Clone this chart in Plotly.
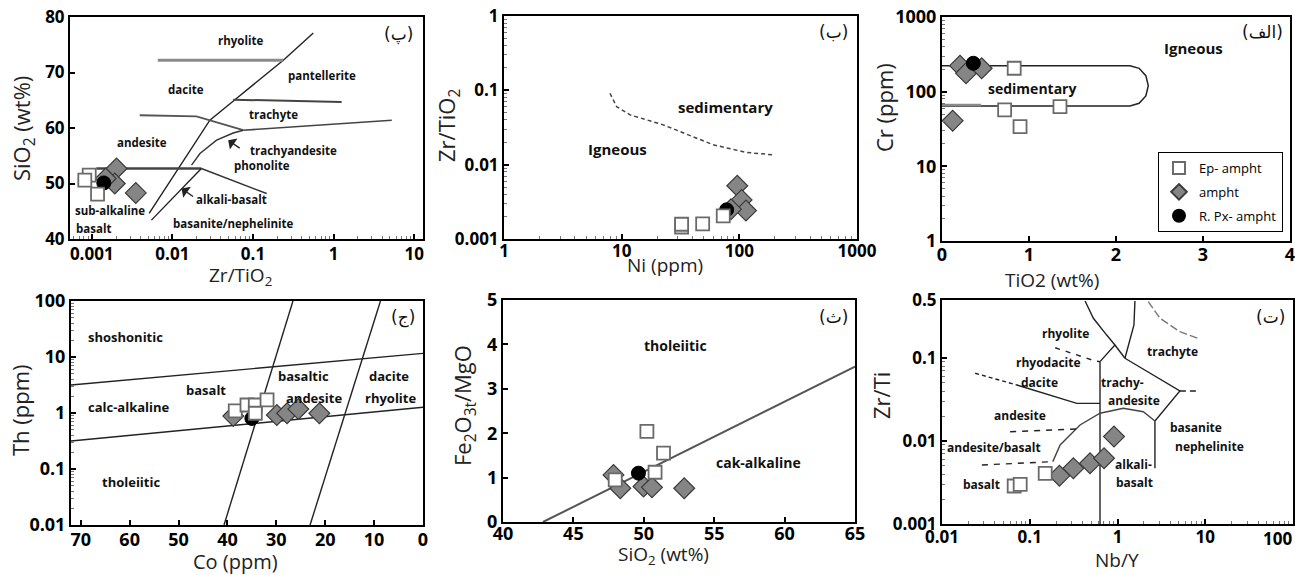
import numpy as np
import plotly.graph_objects as go

W, H = 1295, 575

# ================= DATA =================
# Panel (پ): SiO2 (wt%) vs Zr/TiO2
p1_ep_x = [0.00093, 0.00082, 0.00118]
p1_ep_y = [51.5, 50.6, 48.1]
p1_am_x = [0.00203, 0.00193, 0.00149, 0.00352]
p1_am_y = [52.7, 50.0, 50.9, 48.3]
p1_px_x = [0.00141]
p1_px_y = [50.1]
# classification boundaries (Winchester & Floyd)
p1_main_x = [0.00515, 0.0118, 0.0292, 0.0597, 0.238, 0.561]
p1_main_y = [44.6, 52.7, 61.4, 65.1, 72.2, 77.1]
p1_rhy_x = [0.0066, 0.238]
p1_rhy_y = [72.2, 72.2]
p1_dac_x = [0.00394, 0.0199, 0.0758]
p1_dac_y = [62.3, 62.1, 59.6]
p1_trl_x = [0.0758, 5.28]
p1_trl_y = [59.6, 61.4]
p1_pan_x = [0.0569, 1.26]
p1_pan_y = [65.1, 64.7]
p1_and_x = [0.00114, 0.0229]
p1_and_y = [52.7, 52.7]
p1_alk_x = [0.0229, 0.148]
p1_alk_y = [52.7, 48.2]
p1_low_x = [0.0055, 0.0229]
p1_low_y = [43.4, 52.7]
p1_pho_x = [0.0173, 0.022, 0.0354, 0.0569, 0.0758]
p1_pho_y = [53.3, 55.4, 57.8, 59.1, 59.6]
p1_arrow_pts = [(0.0493, 57.8), (0.0130, 49.1)]

# Panel (ب): Zr/TiO2 vs Ni (ppm)
p2_ep_x = [32.3, 32.3, 48.8, 73.0]
p2_ep_y = [0.00145, 0.00158, 0.00160, 0.00205]
p2_am_x = [96, 104.6, 113.8, 84.9]
p2_am_y = [0.0052, 0.00336, 0.00241, 0.00252]
p2_px_x = [78]
p2_px_y = [0.00247]
p2_curve_x = [7.96, 9.06, 11.8, 22.6, 60, 115, 200]
p2_curve_y = [0.0914, 0.0604, 0.0467, 0.0343, 0.0185, 0.0146, 0.0135]

# Panel (الف): Cr (ppm) vs TiO2 (wt%)
p3_ep_x = [0.83, 0.72, 1.356, 0.897]
p3_ep_y = [206, 56.9, 63, 34]
p3_am_x = [0.207, 0.276, 0.456, 0.123]
p3_am_y = [223, 176, 206, 40.9]
p3_px_x = [0.36]
p3_px_y = [240]
p3_bnd_x = [0, 2.161, 2.266, 2.343, 2.371, 2.343, 2.266, 2.161, 0]
p3_bnd_y = [223, 223, 205.6, 163.7, 119.8, 87.7, 69.8, 64.3, 64.3]
p3_gray_x = [0, 0.45]
p3_gray_y = [66.5, 66.5]

# Panel (ج): Th (ppm) vs Co (ppm)
p4_ep_x = [38.4, 36.0, 34.3, 31.9, 34.3]
p4_ep_y = [1.09, 1.39, 1.39, 1.71, 0.99]
p4_am_x = [38.8, 29.9, 27.8, 25.5, 21.2]
p4_am_y = [0.88, 0.92, 0.99, 1.18, 0.99]
p4_px_x = [35.0]
p4_px_y = [0.80]
p4_up_x = [72, 0]
p4_up_y = [3.16, 11.6]
p4_lo_x = [72, 0]
p4_lo_y = [0.316, 1.27]
p4_s1_x = [40.7, 26.6]
p4_s1_y = [0.01, 100]
p4_s2_x = [23.1, 8.7]
p4_s2_y = [0.01, 100]

# Panel (ث): Fe2O3t/MgO vs SiO2
p5_ep_x = [50.22, 51.4, 50.8, 47.97]
p5_ep_y = [2.04, 1.55, 1.12, 0.95]
p5_am_x = [47.85, 48.33, 49.98, 50.58, 52.87]
p5_am_y = [1.06, 0.76, 0.80, 0.78, 0.76]
p5_px_x = [49.62]
p5_px_y = [1.10]
p5_line_x = [42.84, 65]
p5_line_y = [0, 3.5]

# Panel (ت): Zr/Ti vs Nb/Y
p6_ep_x = [0.15, 0.0665, 0.0778]
p6_ep_y = [0.00408, 0.00287, 0.0030]
p6_am_x = [0.218, 0.314, 0.486, 0.702, 0.912]
p6_am_y = [0.00382, 0.00469, 0.00538, 0.00619, 0.0113]
p6_A_x = [0.427, 0.531, 0.753, 0.935, 0.632]
p6_A_y = [0.486, 0.301, 0.189, 0.1435, 0.0904]
p6_B_x = [1.58, 1.54, 1.216]
p6_B_y = [0.486, 0.25, 0.0993]
p6_C_x = [0.935, 1.216]
p6_C_y = [0.1435, 0.0993]
p6_D_x = [1.216, 5.14, 2.67, 2.67]
p6_D_y = [0.0993, 0.0401, 0.0174, 0.00469]
p6_Dd_x = [5.14, 8.69]
p6_Dd_y = [0.0401, 0.0401]
p6_F_x = [0.632, 0.632]
p6_F_y = [0.0904, 0.001]
p6_G_x = [0.183, 0.222, 0.374, 0.632, 1.164, 1.968, 2.67]
p6_G_y = [0.00564, 0.00895, 0.0156, 0.0216, 0.0248, 0.0225, 0.0174]
p6_Hd_x = [0.0239, 0.0713]
p6_Hd_y = [0.0655, 0.0473]
p6_H_x = [0.0713, 0.344, 0.632]
p6_H_y = [0.0473, 0.0284, 0.0284]
p6_I_x = [0.195, 0.555, 0.632]
p6_I_y = [0.133, 0.092, 0.0904]
p6_J_x = [0.0598, 0.344]
p6_J_y = [0.01294, 0.01396]
p6_K_x = [0.0285, 0.183]
p6_K_y = [0.00514, 0.00564]
p6_L_x = [2.24, 3.05, 5.14, 8.30]
p6_L_y = [0.478, 0.301, 0.2075, 0.1725]

series_names = ["Ep- ampht", "ampht", "R. Px- ampht"]

# ================= FIGURE =================
fig = go.Figure()
AX = ["", "2", "3", "4", "5", "6"]

def line(i, xs, ys, color="#222", width=1.4, dash="solid"):
    fig.add_trace(go.Scatter(x=xs, y=ys, mode="lines",
                             line=dict(color=color, width=width, dash=dash),
                             xaxis="x" + AX[i], yaxis="y" + AX[i],
                             showlegend=False, hoverinfo="skip"))

EP = dict(symbol="square", size=13, color="white", line=dict(color="#6a6a6a", width=1.8))
AM = dict(symbol="diamond", size=16, color="#858585", line=dict(color="#3a3a3a", width=1.2))
PX = dict(symbol="circle", size=14, color="black", line=dict(color="black", width=1))

def pts(i, xs, ys, kind, legend=False):
    mk = {"ep": EP, "am": AM, "px": PX}[kind]
    nm = {"ep": series_names[0], "am": series_names[1], "px": series_names[2]}[kind]
    rank = {"ep": 1, "am": 2, "px": 3}[kind]
    fig.add_trace(go.Scatter(x=xs, y=ys, mode="markers", marker=mk, name=nm,
                             legendrank=rank, legendgroup=kind,
                             xaxis="x" + AX[i], yaxis="y" + AX[i], showlegend=legend))

# panel 1 lines
line(0, p1_main_x, p1_main_y)
line(0, p1_rhy_x, p1_rhy_y, color="#8a8a8a", width=3)
line(0, p1_dac_x, p1_dac_y, color="#555", width=1.8)
line(0, p1_trl_x, p1_trl_y, color="#444", width=1.6)
line(0, p1_pan_x, p1_pan_y, color="#444", width=2)
line(0, p1_and_x, p1_and_y, color="#444", width=2.6)
line(0, p1_alk_x, p1_alk_y, color="#333", width=1.4)
line(0, p1_low_x, p1_low_y)
line(0, p1_pho_x, p1_pho_y, color="#333", width=1.4)
# panel 2 lines
line(1, p2_curve_x, p2_curve_y, color="#444", width=1.5, dash="4px,3px")
# panel 3 lines
line(2, p3_bnd_x, p3_bnd_y, color="#222", width=1.5)
line(2, p3_gray_x, p3_gray_y, color="#8a8a8a", width=2.5)
# panel 4 lines
line(3, p4_up_x, p4_up_y)
line(3, p4_lo_x, p4_lo_y)
line(3, p4_s1_x, p4_s1_y)
line(3, p4_s2_x, p4_s2_y)
# panel 5 line
line(4, p5_line_x, p5_line_y, color="#555", width=2)
# panel 6 lines
line(5, p6_A_x, p6_A_y)
line(5, p6_B_x, p6_B_y)
line(5, p6_C_x, p6_C_y)
line(5, p6_D_x, p6_D_y)
line(5, p6_Dd_x, p6_Dd_y, dash="6px,4px")
line(5, p6_F_x, p6_F_y)
line(5, p6_G_x, p6_G_y, color="#444")
line(5, p6_Hd_x, p6_Hd_y, dash="4px,3px")
line(5, p6_H_x, p6_H_y)
line(5, p6_I_x, p6_I_y, dash="5px,6px")
line(5, p6_J_x, p6_J_y, dash="6px,6px")
line(5, p6_K_x, p6_K_y, dash="6px,6px")
line(5, p6_L_x, p6_L_y, color="#777", dash="8px,3px")

# markers
pts(0, p1_am_x, p1_am_y, "am"); pts(0, p1_px_x, p1_px_y, "px"); pts(0, p1_ep_x, p1_ep_y, "ep")
pts(1, p2_am_x, p2_am_y, "am"); pts(1, p2_px_x, p2_px_y, "px"); pts(1, p2_ep_x, p2_ep_y, "ep")
pts(2, p3_am_x, p3_am_y, "am", True); pts(2, p3_px_x, p3_px_y, "px", True); pts(2, p3_ep_x, p3_ep_y, "ep", True)
pts(3, p4_am_x, p4_am_y, "am"); pts(3, p4_px_x, p4_px_y, "px"); pts(3, p4_ep_x, p4_ep_y, "ep")
pts(4, p5_am_x, p5_am_y, "am"); pts(4, p5_px_x, p5_px_y, "px"); pts(4, p5_ep_x, p5_ep_y, "ep")
pts(5, p6_am_x, p6_am_y, "am"); pts(5, p6_ep_x, p6_ep_y, "ep")

# ================= AXES =================
def TF(size=17):
    return dict(family="Open Sans", size=size, color="black", weight="bold")

def xd(a, b):
    return [a / W, b / W]

def yd(top, bottom):
    return [1 - bottom / H, 1 - top / H]

def minor_vals(e0, e1):
    return [k * 10.0 ** e for e in range(e0, e1) for k in range(2, 10)]

def base(log=None, fs=17, standoff=0):
    d = dict(showline=True, linecolor="black", linewidth=2, mirror=True,
             ticks="inside", ticklen=5, tickwidth=1.5, tickcolor="black",
             showgrid=False, zeroline=False, tickfont=TF(fs), automargin=False,
             ticklabeloverflow="allow", ticklabelstandoff=standoff)
    if log is not None:
        d["type"] = "log"
        d["minor"] = dict(ticks="inside", ticklen=3, tickwidth=1, tickcolor="#777",
                          showgrid=False, tickmode="array", tickvals=minor_vals(*log))
    return d

lay = {}
lay["xaxis"] = dict(base((-4, 2), standoff=-1), domain=xd(70, 423), range=[-3.27, 1.11], anchor="y",
                    tickvals=[0.001, 0.01, 0.1, 1, 10], ticktext=["0.001", "0.01", "0.1", "1", "10"])
lay["yaxis"] = dict(base(), domain=yd(17, 239), range=[40, 80], anchor="x",
                    tickvals=[40, 50, 60, 70, 80])
lay["xaxis2"] = dict(base((0, 3), standoff=-4), domain=xd(504, 857), range=[0, 3], anchor="y2",
                     tickvals=[1, 10, 100, 1000], ticktext=["1", "10", "100", "1000"])
lay["yaxis2"] = dict(base((-3, 0)), domain=yd(16, 239), range=[-3, 0], anchor="x2",
                     tickvals=[0.001, 0.01, 0.1, 1], ticktext=["0.001", "0.01", "0.1", "1"])
lay["xaxis3"] = dict(base(fs=18, standoff=-4), domain=xd(942, 1290), range=[0, 4], anchor="y3",
                     tickvals=[0, 1, 2, 3, 4])
lay["yaxis3"] = dict(base((0, 3), fs=18), domain=yd(17, 241), range=[0, 3], anchor="x3",
                     tickvals=[1, 10, 100, 1000], ticktext=["1", "10", "100", "1000"])
lay["xaxis4"] = dict(base(fs=18, standoff=-3), domain=xd(71, 423), range=[72, 0], anchor="y4",
                     tickvals=[0, 10, 20, 30, 40, 50, 60, 70])
lay["yaxis4"] = dict(base((-2, 2), fs=18), domain=yd(301, 525), range=[-2, 2], anchor="x4",
                     tickvals=[0.01, 0.1, 1, 10, 100], ticktext=["0.01", "0.1", "1", "10", "100"])
lay["xaxis5"] = dict(base(fs=18, standoff=-6), domain=xd(503, 855), range=[40, 65], anchor="y5",
                     tickvals=[40, 45, 50, 55, 60, 65])
lay["yaxis5"] = dict(base(fs=18), domain=yd(300, 522), range=[0, 5], anchor="x5",
                     tickvals=[0, 1, 2, 3, 4, 5])
# the last label ("100") of this axis sits at the page edge: it is written as an annotation below
lay["xaxis6"] = dict(base((-2, 2), standoff=-3), domain=xd(942, 1293), range=[-2, 2], anchor="y6",
                     tickvals=[0.01, 0.1, 1, 10, 100], ticktext=["0.01", "0.1", "1", "10", ""])
lay["yaxis6"] = dict(base((-3, -1)), domain=yd(300, 524), range=[-3, np.log10(0.5)], anchor="x6",
                     tickvals=[0.001, 0.01, 0.1, 0.5], ticktext=["0.001", "0.01", "0.1", "0.5"])

# ================= TEXT =================
ann = []

def lab(px, py, text, size=12.5, weight="bold", angle=0, family="Open Sans", color="#111",
        xanchor="center"):
    ann.append(dict(x=px / W, y=1 - py / H, xref="paper", yref="paper", text=text,
                    showarrow=False, textangle=angle, xanchor=xanchor, yanchor="middle",
                    font=dict(family=family, size=size, color=color, weight=weight)))

def ptag(px, py, text):
    lab(px, py, text, size=17, weight="normal", family="DejaVu Sans")

# edge tick label of the Nb/Y axis
lab(1294, 538, "100", size=17, color="black", xanchor="right")

# axis titles
XT = dict(size=19, weight="normal", color="#222")
YT = dict(size=22, weight="normal", color="#222", angle=-90)
lab(240, 276, "Zr/TiO<sub>2</sub>", **XT)
lab(23, 128, "SiO<sub>2</sub> (wt%)", **YT)
lab(665, 265, "Ni (ppm)", **XT)
lab(448, 126, "Zr/TiO<sub>2</sub>", **YT)
lab(1052, 280, "TiO2 (wt%)", **XT)
lab(884, 108, "Cr (ppm)", **YT)
lab(235, 561, "Co (ppm)", size=20, weight="normal", color="#222")
lab(20, 410, "Th (ppm)", **YT)
lab(663, 555, "SiO<sub>2</sub> (wt%)", **XT)
lab(464, 405, "Fe<sub>2</sub>O<sub>3t</sub>/MgO", **YT)
lab(1117, 560, "Nb/Y", size=19, weight="normal", color="#222")
lab(881, 395, "Zr/Ti", **YT)

# panel 1 labels
for px, py, t in [(240, 40, "rhyolite"), (322, 75, "pantellerite"), (186, 89, "dacite"),
                  (273, 114, "trachyte"), (142, 143, "andesite"), (293, 150, "trachyandesite"),
                  (262, 165, "phonolite"), (231, 199, "alkali-basalt"), (110, 210, "sub-alkaline"),
                  (93, 228, "basalt"), (233, 223, "basanite/nephelinite")]:
    lab(px, py, t, size=11.5)
ptag(398, 35, "(پ)")
# panel 2
lab(725, 107, "sedimentary", size=15)
lab(617, 149, "Igneous", size=15)
ptag(833, 32, "(ب)")
# panel 3
lab(1193, 48, "Igneous", size=15)
lab(1032, 88, "sedimentary", size=14)
ptag(1262, 32, "(الف)")
# panel 4
for px, py, t in [(125, 337, "shoshonitic"), (206, 390, "basalt"), (129, 407, "calc-alkaline"),
                  (303, 376, "basaltic"), (314, 398, "andesite"), (389, 376, "dacite"),
                  (390, 398, "rhyolite"), (131, 482, "tholeiitic")]:
    lab(px, py, t, size=13)
ptag(403, 317, "(ج)")
# panel 5
lab(675, 345, "tholeiitic", size=14)
lab(758, 462, "cak-alkaline", size=14)
ptag(833, 317, "(ث)")
# panel 6
for px, py, t in [(1065, 333, "rhyolite"), (1172, 351, "trachyte"), (1048, 362, "rhyodacite"),
                  (1039, 382, "dacite"), (1122, 382, "trachy-"), (1134, 400, "andesite"),
                  (1020, 415, "andesite"), (1196, 427, "basanite"), (1209, 446, "nephelinite"),
                  (994, 447, "andesite/basalt"), (1133, 464, "alkali-"), (1134, 482, "basalt"),
                  (981, 484, "basalt")]:
    lab(px, py, t, size=12)
ptag(1270, 317, "(ت)")

# arrows in panel 1
for (ax_, ay_) in p1_arrow_pts:
    ann.append(dict(x=np.log10(ax_), y=ay_, xref="x", yref="y", text="", showarrow=True,
                    arrowhead=1, arrowsize=1.6, arrowwidth=1.4, arrowcolor="#222",
                    ax=13, ay=9))

fig.update_layout(
    width=W, height=H, margin=dict(l=0, r=0, t=0, b=0, autoexpand=False),
    paper_bgcolor="white", plot_bgcolor="white",
    annotations=ann,
    legend=dict(x=1283 / W, y=1 - 232 / H, xanchor="right", yanchor="bottom",
                bgcolor="white", bordercolor="black", borderwidth=1,
                font=dict(family="Open Sans", size=13, color="black"),
                tracegroupgap=4, itemsizing="constant", itemwidth=30),
    **lay,
)

fig.write_html("out.html", config={"displayModeBar": False},
               post_script="document.body.style.margin='0';document.body.style.overflow='hidden';")
